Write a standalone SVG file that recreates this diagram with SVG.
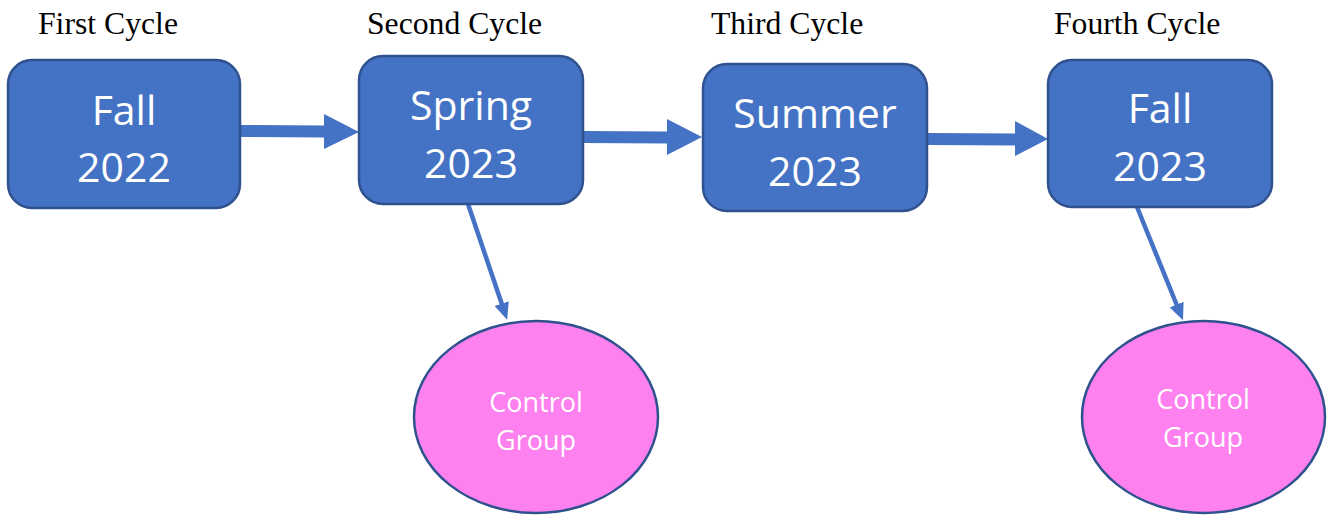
<svg xmlns="http://www.w3.org/2000/svg" width="1328" height="517" viewBox="0 0 1328 517">
<style>
.title{font-family:"Liberation Serif","Times New Roman",serif;font-size:31.7px;fill:#000}
.box{fill:#4472C4;stroke:#2F528F;stroke-width:2.5}
.oval{fill:#FF80EF;stroke:#2F528F;stroke-width:2.5}
.bt{font-family:"Open Sans",sans-serif;font-size:41px;fill:#fff;text-anchor:middle}
.ot{font-family:"Open Sans",sans-serif;font-size:27px;fill:#fff;text-anchor:middle}
.blk{fill:#4472C4}
.thin{stroke:#4472C4;stroke-width:4.5;fill:none}
</style>
<defs>
<marker id="ah" markerUnits="userSpaceOnUse" markerWidth="17" markerHeight="15" viewBox="0 -7.5 17 15" refX="1" refY="0" orient="auto">
<path d="M0,-7.5 L17,0 L0,7.5 z" fill="#4472C4"/>
</marker>
</defs>
<g id="titles">
<text class="title" x="38" y="34">First Cycle</text>
<text class="title" x="367" y="34">Second Cycle</text>
<text class="title" x="711" y="34">Third Cycle</text>
<text class="title" x="1054" y="34">Fourth Cycle</text>
</g>
<g id="connectors">
<polygon class="blk" points="240,125 324,125.5 324,114 359,132 324,149 324,137.5 240,137"/>
<polygon class="blk" points="583,131 667,131.5 667,119 702,137 667,155 667,143.5 583,143"/>
<polygon class="blk" points="928,133 1015,133.5 1015,121 1048,139 1015,156 1015,145.5 928,145"/>
<line class="thin" x1="468" y1="204" x2="502" y2="304.5" marker-end="url(#ah)"/>
<line class="thin" x1="1137" y1="207" x2="1177" y2="305.5" marker-end="url(#ah)"/>
</g>
<g id="fall2022">
<rect class="box" x="8" y="60" width="232" height="148" rx="24"/>
<text class="bt" x="124" y="125">Fall</text>
<text class="bt" x="124" y="182">2022</text>
</g>
<g id="spring2023">
<rect class="box" x="359" y="56" width="224" height="148" rx="24"/>
<text class="bt" x="471" y="120">Spring</text>
<text class="bt" x="471" y="178">2023</text>
</g>
<g id="summer2023">
<rect class="box" x="703" y="64" width="224" height="147" rx="24"/>
<text class="bt" x="815" y="128">Summer</text>
<text class="bt" x="815" y="186">2023</text>
</g>
<g id="fall2023">
<rect class="box" x="1048" y="60" width="224" height="147" rx="24"/>
<text class="bt" x="1160" y="123">Fall</text>
<text class="bt" x="1160" y="181">2023</text>
</g>
<g id="control1">
<ellipse class="oval" cx="536" cy="417" rx="122" ry="96"/>
<text class="ot" x="536" y="412">Control</text>
<text class="ot" x="536" y="450">Group</text>
</g>
<g id="control2">
<ellipse class="oval" cx="1203.5" cy="417" rx="121.5" ry="96"/>
<text class="ot" x="1203" y="409">Control</text>
<text class="ot" x="1203" y="447">Group</text>
</g>
</svg>
